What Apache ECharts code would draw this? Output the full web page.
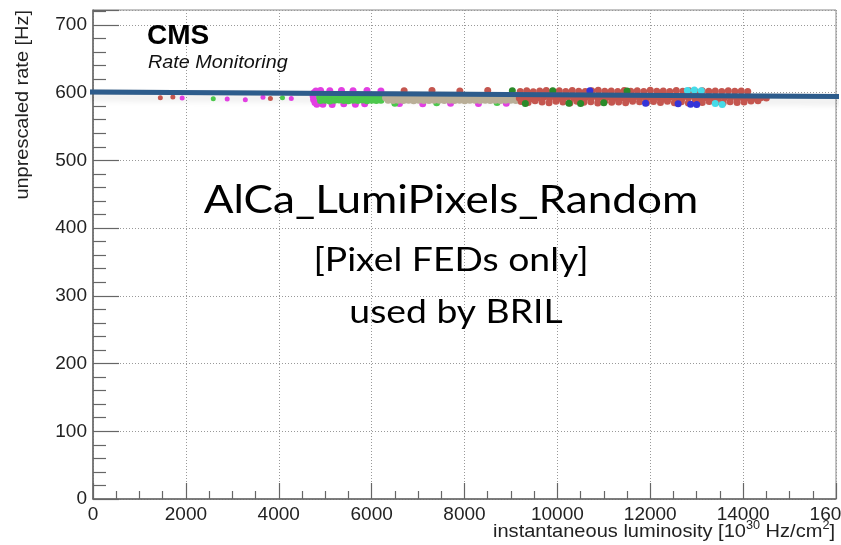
<!DOCTYPE html>
<html>
<head>
<meta charset="utf-8">
<script src="https://cdn.jsdelivr.net/npm/echarts@6/dist/echarts.min.js"></script>
<style>
html,body{margin:0;padding:0;background:#fff;}
#chart{width:841px;height:545px;}
</style>
</head>
<body>
<div id="chart"></div>
<script>
// ---- axis settings ----
const xRange = [0, 16000];
const yRange = [0, 722];

// ---- fit line (two end points) ----
const fitX = [-170, 16300];
const fitY = [601.1, 594.3];

// ---- scatter data per run colour [luminosity, rate] ----
const magentaPts = [
  [1920,592],[2890,590.5],[3280,589.5],[3660,593],[4270,591.5],
  [4760,600],[4740,595],[4750,590],[4780,585.5],[4820,583],[4800,602.5],[4900,603],
  [5100,602.8],[5350,603.2],[5600,602.6],[5900,603.1],[6200,602.4],
  [4950,583],[5150,582.5],[5400,583.5],[5650,583],[5850,583.5],
  [6600,584],[7100,583.5],[7700,584.5],[8300,584],[8900,584.5]
];
const greenPts = [
  [2590,591],[4080,592.5],
  [4880,593.5],[4980,592.8],[5080,593.6],[5180,593.1],[5280,592.7],[5380,593.4],[5480,593.0],
  [5580,593.6],[5680,592.9],[5780,593.2],[5880,593.5],[5980,592.8],[6080,593.3],[6180,593.0],
  [4900,588.2],[5000,588.9],[5100,587.8],[5200,588.6],[5300,589.0],[5400,588.3],[5500,587.9],
  [5600,588.7],[5700,588.4],[5800,589.1],[5900,588.0],[6000,588.6],[6100,588.2],[6200,588.8],
  [5200,596.5],[5700,597],[6500,584.5],[7400,585],[8700,585.5]
];
const tanPts = [
  [6300,592.6],[6410,593.0],[6520,592.3],[6630,592.8],[6740,593.1],[6850,592.4],[6960,592.9],
  [7070,592.5],[7180,593.2],[7290,592.7],[7400,592.2],[7510,592.9],[7620,593.1],[7730,592.6],
  [7840,592.3],[7950,592.8],[8060,593.0],[8170,592.4],[8280,592.7],[8390,593.2],[8500,592.5],
  [8610,592.9],[8720,592.3],[8830,592.8],[8940,593.0],[9050,592.6],
  [6355,588.6],[6465,588.2],[6575,588.9],[6685,588.4],[6795,588.7],[6905,588.1],[7015,588.8],
  [7125,588.5],[7235,588.2],[7345,588.9],[7455,588.6],[7565,588.3],[7675,588.8],[7785,588.4],
  [7895,588.7],[8005,588.1],[8115,588.6],[8225,588.9],[8335,588.3],[8445,588.7],[8555,588.4],
  [8665,588.8],[8775,588.2],[8885,588.6],[8995,588.9],[9105,588.4]
];
const redPts = [
  [1450,592.5],[1720,593.5],[3820,591.5],
  [6700,602.8],[7300,603.2],[7900,602.4],[8500,603.0],
  [9200,601.8],[9340,602.9],[9480,601.4],[9620,602.5],[9760,603.3],[9900,601.9],[10040,602.6],
  [10180,601.5],[10320,603.1],[10460,602.2],[10600,601.7],[10740,602.8],[10880,603.4],[11020,602.0],
  [11160,602.3],[11300,601.6],[11440,603.0],[11580,602.1],[11720,602.7],[11860,601.5],[12000,603.5],
  [12140,602.2],[12280,602.4],[12420,601.8],[12560,603.2],[12700,601.9],[12840,602.6],[12980,601.4],
  [13120,602.9],[13260,602.1],[13400,602.3],[13540,601.7],[13680,602.8],[13820,602.0],[13960,602.5],
  [14100,601.6],
  [9180,592.1],[9310,593.0],[9440,591.4],[9570,592.6],[9700,593.3],[9830,591.8],[9960,592.4],
  [10090,590.9],[10220,593.1],[10350,592.0],[10480,591.6],[10610,592.8],[10740,593.4],[10870,591.2],
  [11000,592.5],[11130,593.0],[11260,591.7],[11390,592.3],[11520,590.8],[11650,592.9],[11780,593.2],
  [11910,591.5],[12040,592.2],[12170,592.7],[12300,591.1],[12430,593.3],[12560,592.0],[12690,591.6],
  [12820,592.8],[12950,593.1],[13080,591.4],[13210,592.5],[13340,592.9],[13470,591.8],[13600,592.3],
  [13730,593.0],[13860,591.5],[13990,592.6],[14120,592.1],[14250,591.7],[14380,592.4],[14500,591.9],
  [9220,586.8],[9370,585.5],[9520,587.9],[9670,586.2],[9820,585.1],[9970,587.4],[10120,586.0],
  [10270,584.8],[10420,587.2],[10570,585.9],[10720,586.6],[10870,584.6],[11020,587.6],[11170,585.7],
  [11320,586.3],[11470,585.0],[11620,587.1],[11770,586.4],[11920,584.9],[12070,586.8],[12220,585.6],
  [12370,587.3],[12520,585.2],[12670,586.5],[12820,584.7],[12970,586.9],[13120,585.4],[13270,587.0],
  [13420,585.8],[13570,584.9],[13720,586.7],[13870,585.3],[14020,586.1],[14170,587.5],[14320,588.0]
];
const darkGreenPts = [[9030,602.8],[9310,584],[9900,602.8],[10250,584.5],[10500,584],[11000,585],[11500,602.5]];
const bluePts = [[10700,602.8],[11900,584.5],[12600,583.5],[12870,583],[13000,582.5]];
const cyanPts = [[12800,603.2],[12950,603.8],[13100,602.8],[13400,584],[13550,582.5]];

// ---- texts ----
const yTitle = 'unprescaled rate [Hz]';
const cmsLabel = 'CMS';
const subLabel = 'Rate Monitoring';
const overlayLines = ['AlCa_LumiPixels_Random', '[Pixel FEDs only]', 'used by BRIL'];

const FONT = '"Liberation Sans", Arial, sans-serif';
const BIG = 'Lato, "Open Sans", sans-serif';
const AX = '#666';

function scatter(data, color) {
  return {
    type: 'scatter', data: data, symbol: 'circle',
    symbolSize: function (v) { return v[0] < 4600 ? 5 : 7; },
    itemStyle: { color: color, opacity: 1 }, z: 3, silent: true
  };
}
const fitData = fitX.map(function (x, i) { return [x, fitY[i]]; });

const chart = echarts.init(document.getElementById('chart'), null, { renderer: 'canvas' });
chart.setOption({
  animation: false,
  backgroundColor: '#fff',
  grid: { left: 93, right: 5, top: 10, bottom: 46, show: true, borderColor: '#888', borderWidth: 1,
          backgroundColor: 'transparent', containLabel: false, outerBoundsMode: 'none' },
  xAxis: {
    type: 'value', min: xRange[0], max: xRange[1], interval: 2000,
    axisLine: { show: true, lineStyle: { color: AX, width: 1.5 } },
    axisTick: { show: true, inside: true, length: 16, lineStyle: { color: AX, width: 1.2 } },
    minorTick: { show: true, splitNumber: 4, length: 8, lineStyle: { color: AX, width: 1.2 } },
    splitLine: { show: true, lineStyle: { color: '#999', type: [1, 2], width: 1 } },
    axisLabel: { fontFamily: FONT, fontSize: 19, color: '#222', margin: 6, showMaxLabel: true, hideOverlap: false,
      formatter: function (v) { return String(v); } }
  },
  yAxis: {
    type: 'value', min: yRange[0], max: yRange[1], interval: 100,
    axisLine: { show: true, lineStyle: { color: AX, width: 1.5 } },
    axisTick: { show: true, inside: true, length: 26, lineStyle: { color: AX, width: 1.2 } },
    minorTick: { show: true, splitNumber: 5, length: 13, lineStyle: { color: AX, width: 1.2 } },
    splitLine: { show: true, lineStyle: { color: '#999', type: [1, 2], width: 1 } },
    axisLabel: { fontFamily: FONT, fontSize: 19, color: '#222', margin: 6,
      formatter: function (v) { return v % 100 === 0 ? String(v) : ''; } }
  },
  series: [
    {
      type: 'line', data: fitData, showSymbol: false, symbol: 'none', clip: false, z: 1, silent: true,
      lineStyle: { color: 'rgba(120,120,120,0.35)', width: 5, shadowColor: 'rgba(0,0,0,0.3)', shadowBlur: 7, shadowOffsetY: 5 }
    },
    scatter(magentaPts, '#e23fe2'),
    scatter(greenPts, '#4cc84c'),
    scatter(tanPts, '#b9ae97'),
    scatter(redPts, '#c4564f'),
    scatter(darkGreenPts, '#2a8a2a'),
    scatter(bluePts, '#3434d8'),
    scatter(cyanPts, '#45dbe8'),
    {
      type: 'line', data: fitData, showSymbol: false, symbol: 'none', clip: false, z: 5, silent: true,
      lineStyle: { color: '#2d5c8c', width: 5 }
    }
  ],
  graphic: [
    { type: 'text', x: 23, y: 10, rotation: Math.PI / 2, scaleX: 1.05, z: 10,
      style: { text: yTitle, fontSize: 19, fontFamily: FONT, fill: '#222', align: 'right', verticalAlign: 'middle' } },
    { type: 'text', x: 835, y: 544, scaleX: 1.055, z: 10,
      style: {
        text: '{a|instantaneous luminosity [10}{s|30}{a| Hz/cm}{s|2}{a|]}',
        align: 'right', verticalAlign: 'bottom',
        rich: {
          a: { fontSize: 19, fontFamily: FONT, fill: '#222', lineHeight: 24 },
          s: { fontSize: 12, fontFamily: FONT, fill: '#222', lineHeight: 24, verticalAlign: 'top' }
        }
      } },
    { type: 'text', x: 147, y: 36, z: 10,
      style: { text: cmsLabel, fontSize: 28, fontWeight: 'bold', fontFamily: FONT, fill: '#000', verticalAlign: 'middle' } },
    { type: 'text', x: 148, y: 63, scaleX: 1.1, z: 10,
      style: { text: subLabel, fontSize: 18, fontStyle: 'italic', fontFamily: FONT, fill: '#111', verticalAlign: 'middle' } },
    { type: 'text', x: 451, y: 200, scaleX: 1.13, z: 10,
      style: { text: overlayLines[0], fontSize: 39, fontFamily: BIG, fill: '#000', align: 'center', verticalAlign: 'middle' } },
    { type: 'text', x: 451, y: 260, scaleX: 1.13, z: 10,
      style: { text: overlayLines[1], fontSize: 33, fontFamily: BIG, fill: '#000', align: 'center', verticalAlign: 'middle' } },
    { type: 'text', x: 456, y: 312, scaleX: 1.13, z: 10,
      style: { text: overlayLines[2], fontSize: 33, fontFamily: BIG, fill: '#000', align: 'center', verticalAlign: 'middle' } }
  ]
});
</script>
</body>
</html>
